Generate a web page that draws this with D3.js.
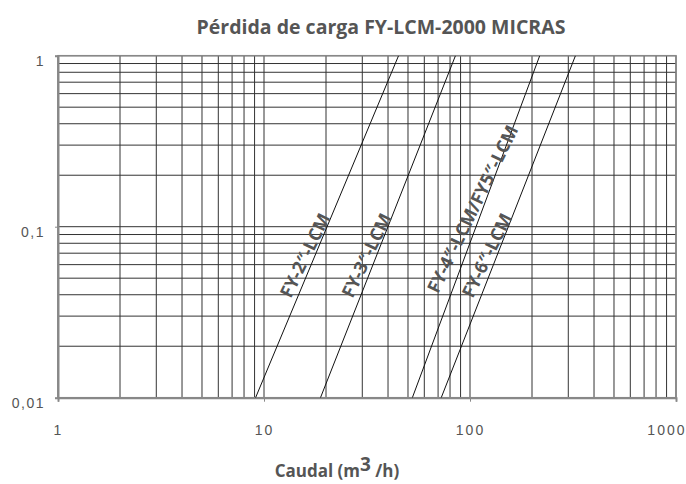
<!DOCTYPE html>
<html>
<head>
<meta charset="utf-8">
<script src="https://d3js.org/d3.v7.min.js"></script>
<style>
    body { margin: 0; background: #fff; }
    text { fill: #555; }
</style>
</head>
<body>
<svg width="686" height="484"></svg>
<script>

    // curves: caudal (m3/h) where each filter reaches 0,01 and 1
    var series = ["FY-2\u2033-LCM", "FY-3\u2033-LCM", "FY-4\u2033-LCM/FY5\u2033-LCM", "FY-6\u2033-LCM"];
    var caudalAtLow = [9.1, 18.8, 52.5, 72.5];
    var caudalAtHigh = [45, 85, 218, 325];
    var perdidaLow = 0.01, perdidaHigh = 1;

    var xTicks = [1, 10, 100, 1000];
    var xTickLabels = ["1", "10", "100", "1000"];
    var yTicks = [0.01, 0.1, 1];
    var yTickLabels = ["0,01", "0,1", "1"];

    // where along each curve its name sits
    var labelLevel = [0.068, 0.068, 0.127, 0.068];

    var svg = d3.select("svg"),
        margin = {top: 55.7, right: 10, bottom: 86.3, left: 58},
        width = +svg.attr("width") - margin.left - margin.right,
        height = +svg.attr("height") - margin.top - margin.bottom;

    var x = d3.scaleLog().domain([1, 1000]).range([0, width]),
        y = d3.scaleLog().domain([0.01, 1]).range([height, 0]);

    var g = svg.append("g")
        .attr("transform", "translate(" + margin.left + "," + margin.top + ")");

    function minors(lo, hi) {
        var out = [];
        for (var d = lo; d < hi; d *= 10)
            for (var k = 1; k < 10; k++) out.push(+(d * k).toPrecision(3));
        out.push(hi);
        return out;
    }

    // grid
    g.append("g").selectAll("line")
        .data(minors(1, 1000))
        .enter().append("line")
        .attr("x1", function(d) { return x(d); })
        .attr("x2", function(d) { return x(d); })
        .attr("y1", 0).attr("y2", height)
        .attr("stroke", "#333").attr("stroke-width", 1);

    g.append("g").selectAll("line")
        .data(minors(0.01, 1))
        .enter().append("line")
        .attr("y1", function(d) { return y(d); })
        .attr("y2", function(d) { return y(d); })
        .attr("x1", 0).attr("x2", width)
        .attr("stroke", "#333").attr("stroke-width", 1);

    // frame
    g.append("rect")
        .attr("width", width).attr("height", height)
        .attr("fill", "none").attr("stroke", "#888").attr("stroke-width", 1.5);

    // axes
    g.append("g")
        .attr("transform", "translate(0," + height + ")")
        .call(d3.axisBottom(x).tickValues(xTicks).tickSize(4).tickPadding(23)
            .tickFormat(function(d, i) { return xTickLabels[i]; }))
        .call(function(a) {
            a.select(".domain").attr("stroke", "#888").attr("stroke-width", 2);
            a.selectAll(".tick line").attr("stroke", "#888");
            a.selectAll("text")
                .attr("font-family", "Liberation Sans, Arial, sans-serif")
                .attr("font-size", 14).attr("fill", "#555")
                .attr("letter-spacing", 2);
            a.selectAll(".tick:last-of-type text").attr("text-anchor", "end").attr("dx", 10);
        });

    g.append("g")
        .call(d3.axisLeft(y).tickValues(yTicks).tickSize(3).tickPadding(10)
            .tickFormat(function(d, i) { return yTickLabels[i]; }))
        .call(function(a) {
            a.select(".domain").attr("stroke", "#888").attr("stroke-width", 2);
            a.selectAll(".tick line").attr("stroke", "#888");
            a.selectAll("text")
                .attr("font-family", "Liberation Sans, Arial, sans-serif")
                .attr("font-size", 14).attr("fill", "#555")
                .attr("dy", "0.7em").attr("letter-spacing", 1.5);
        });

    // curves
    svg.append("clipPath").attr("id", "plot")
        .append("rect").attr("width", width).attr("height", height);

    var rows = series.map(function(name, i) {
        return {name: name, pts: [[caudalAtLow[i], perdidaLow], [caudalAtHigh[i], perdidaHigh]]};
    });

    var line = d3.line()
        .x(function(d) { return x(d[0]); })
        .y(function(d) { return y(d[1]); });

    g.append("g").attr("clip-path", "url(#plot)")
        .selectAll("path")
        .data(rows)
        .enter().append("path")
        .attr("d", function(d) { return line(d.pts); })
        .attr("fill", "none")
        .attr("stroke", "#111")
        .attr("stroke-width", 1);

    // curve names, placed on the curve at labelLevel
    g.selectAll(".curve-label")
        .data(rows)
        .enter().append("text")
        .attr("class", "curve-label")
        .attr("transform", function(d, i) {
            var a = d.pts[0], b = d.pts[1];
            var t = (Math.log(labelLevel[i]) - Math.log(a[1])) / (Math.log(b[1]) - Math.log(a[1]));
            var q = Math.exp(Math.log(a[0]) + t * (Math.log(b[0]) - Math.log(a[0])));
            return "translate(" + (x(q) - 10) + "," + y(labelLevel[i]) + ") rotate(-64)";
        })
        .attr("text-anchor", "middle")
        .attr("dy", "0.35em")
        .attr("font-family", "Open Sans, sans-serif")
        .attr("font-weight", "bold")
        .attr("font-size", 18)
        .text(function(d) { return d.name; });

    // titles
    svg.append("text")
        .attr("x", 381).attr("y", 34)
        .attr("text-anchor", "middle")
        .attr("font-family", "Open Sans, sans-serif")
        .attr("font-weight", "bold")
        .attr("font-size", 19.5)
        .text("Pérdida de carga FY-LCM-2000 MICRAS");

    var xt = svg.append("text")
        .attr("x", 337).attr("y", 477)
        .attr("text-anchor", "middle")
        .attr("font-family", "Open Sans, sans-serif")
        .attr("font-weight", "bold")
        .attr("font-size", 17);
    xt.append("tspan").text("Caudal (m");
    xt.append("tspan").attr("dy", -6).attr("font-size", 19).text("3");
    xt.append("tspan").attr("dy", 6).text(" /h)");

</script>
</body>
</html>
